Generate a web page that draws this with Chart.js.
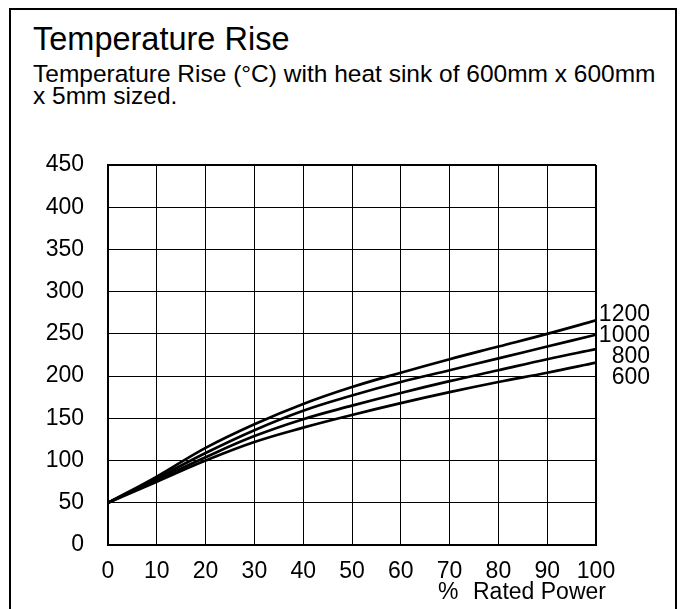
<!DOCTYPE html>
<html lang="en">
<head>
    <meta charset="UTF-8">
    <title>Temperature Rise</title>
    <script src="https://cdn.jsdelivr.net/npm/chart.js"></script>
    <style>
        body {
            margin: 0;
            background: #fff;
            font-family: "Liberation Sans", Arial, sans-serif;
            color: #000;
        }
        #frame {
            position: absolute;
            left: 9px;
            top: 8px;
            width: 668px;
            height: 700px;
            box-sizing: border-box;
            border: 2px solid #000;
        }
        #title {
            position: absolute;
            left: 33px;
            top: 23px;
            font-size: 32.5px;
            line-height: 32px;
        }
        #subtitle {
            position: absolute;
            left: 33px;
            top: 63px;
            font-size: 24.5px;
            line-height: 22px;
        }
        #chart-container {
            position: absolute;
            left: 0;
            top: 0;
            width: 680px;
            height: 609px;
        }
    </style>
</head>
<body>

<div id="frame"></div>
<div id="title">Temperature Rise</div>
<div id="subtitle">Temperature Rise (°C) with heat sink of 600mm x 600mm<br>x 5mm sized.</div>

<div id="chart-container">
    <canvas id="riseChart" width="680" height="609"></canvas>
</div>

<script>
    // % rated power
    const ratedPower = [0, 10, 20, 30, 40, 50, 60, 70, 80, 90, 100];

    // temperature rise per resistor size
    const seriesNames = ['1200', '1000', '800', '600'];
    const rise1200 = [50, 81, 115, 143, 167, 187, 204, 220, 235, 250, 266];
    const rise1000 = [50, 79, 109, 136, 159, 177, 193, 207, 221, 235, 249];
    const rise800  = [50, 77, 104, 129, 149, 165, 180, 194, 207, 220, 232];
    const rise600  = [50, 75, 100, 122, 139, 154, 168, 181, 193, 204, 216];

    const yTicks = [0, 50, 100, 150, 200, 250, 300, 350, 400, 450];
    const xTicks = [0, 10, 20, 30, 40, 50, 60, 70, 80, 90, 100];
    const xAxisUnit = '%';
    const xAxisName = 'Rated Power';

    const allSeries = [rise1200, rise1000, rise800, rise600];
    const FONT = '"Liberation Sans", Arial, sans-serif';

    // end-of-line labels, spread so they don't collide
    const endLabels = {
        id: 'endLabels',
        afterDatasetsDraw(chart) {
            const ctx = chart.ctx;
            const area = chart.chartArea;
            const ends = chart.data.datasets.map((ds, i) => {
                const pts = chart.getDatasetMeta(i).data;
                return { name: ds.label, y: pts[pts.length - 1].y };
            }).sort((a, b) => a.y - b.y);
            const gap = 21;
            const mid = ends.reduce((s, e) => s + e.y, 0) / ends.length + 3;
            ctx.save();
            ctx.font = '23px ' + FONT;
            ctx.fillStyle = '#000';
            ctx.textAlign = 'right';
            ctx.textBaseline = 'middle';
            ends.forEach((e, i) => {
                const y = mid + (i - (ends.length - 1) / 2) * gap;
                ctx.fillText(e.name, area.right + 54, y + 1);
            });
            ctx.restore();
        }
    };

    // "% Rated Power" under the right end of the x axis
    const axisCaption = {
        id: 'axisCaption',
        afterDraw(chart) {
            const ctx = chart.ctx;
            const area = chart.chartArea;
            ctx.save();
            ctx.fillStyle = '#000';
            ctx.textBaseline = 'alphabetic';
            ctx.textAlign = 'left';
            ctx.font = '23px ' + FONT;
            ctx.fillText(xAxisUnit, area.right - 158, area.bottom + 54);
            ctx.fillText(xAxisName, area.right - 123, area.bottom + 54);
            ctx.restore();
        }
    };

    const ctx = document.getElementById('riseChart').getContext('2d');

    new Chart(ctx, {
        type: 'line',
        data: {
            datasets: allSeries.map((vals, i) => ({
                label: seriesNames[i],
                data: vals.map((v, j) => ({ x: ratedPower[j], y: v })),
                borderColor: '#000',
                borderWidth: 2.7,
                pointRadius: 0,
                fill: false,
                tension: 0.4
            }))
        },
        options: {
            responsive: false,
            animation: false,
            devicePixelRatio: 1,
            layout: {
                padding: { left: 0, right: 84, top: 165, bottom: 0 }
            },
            plugins: {
                legend: { display: false },
                tooltip: { enabled: false }
            },
            scales: {
                x: {
                    type: 'linear',
                    min: 0,
                    max: 100,
                    afterBuildTicks: (axis) => { axis.ticks = xTicks.map(v => ({ value: v })); },
                    afterFit: (axis) => { axis.height = 64; },
                    grid: {
                        color: '#000',
                        lineWidth: (c) => (c.tick && c.tick.value === 100 ? 2 : 1),
                        drawTicks: false
                    },
                    border: { color: '#000', width: 2 },
                    ticks: {
                        color: '#000',
                        padding: 13,
                        maxRotation: 0,
                        font: { family: FONT, size: 23 }
                    }
                },
                y: {
                    min: 0,
                    max: 450,
                    afterBuildTicks: (axis) => { axis.ticks = yTicks.map(v => ({ value: v })); },
                    afterFit: (axis) => { axis.width = 108; },
                    grid: {
                        color: '#000',
                        lineWidth: (c) => (c.tick && c.tick.value === 450 ? 2 : 1),
                        drawTicks: false
                    },
                    border: { color: '#000', width: 2 },
                    ticks: {
                        color: '#000',
                        padding: 24,
                        font: { family: FONT, size: 23 }
                    }
                }
            }
        },
        plugins: [endLabels, axisCaption]
    });
</script>

</body>
</html>
